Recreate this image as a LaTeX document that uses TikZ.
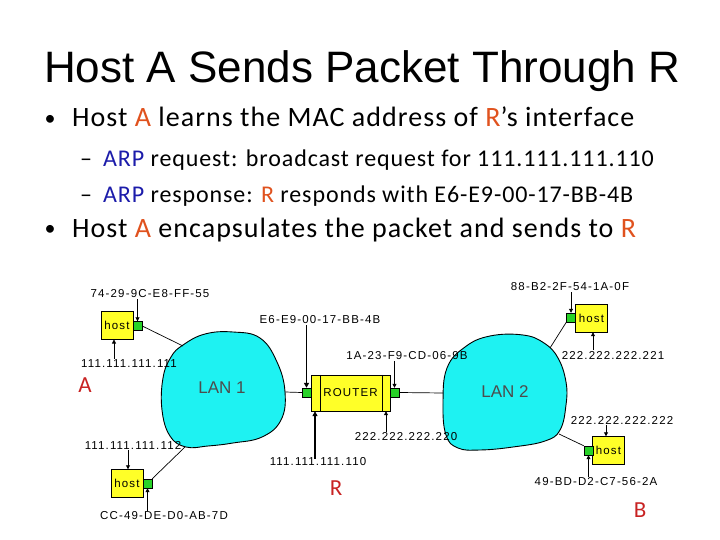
\documentclass[tikz,border=0pt]{standalone}
\usepackage{fontspec}
\setmainfont{Carlito}
\newfontfamily\bodyfont[LetterSpace=3.7]{Carlito}
\newfontfamily\titlefont{Liberation Sans}
\newfontfamily\netfont[LetterSpace=10]{Liberation Sans}
\newfontfamily\lanfont{Liberation Sans}
\usetikzlibrary{arrows.meta}
\definecolor{accR}{RGB}{224,82,30}
\definecolor{arpblue}{RGB}{28,28,170}
\definecolor{lancyan}{RGB}{30,242,242}
\definecolor{hostyellow}{RGB}{255,255,40}
\definecolor{nicgreen}{RGB}{40,210,40}
\definecolor{labred}{RGB}{200,34,34}
\tikzset{
  txt/.style={anchor=base west, inner sep=0},
  hostbox/.style={draw, fill=hostyellow, minimum width=32, minimum height=28, inner sep=0, font=\netfont\fontsize{11.5}{12}\selectfont},
  nic/.style={draw, fill=nicgreen, minimum size=9, inner sep=0},
  lbl/.style={font=\netfont\fontsize{11.5}{12}\selectfont, inner sep=1},
  arr/.style={-{Triangle[length=4pt,width=4pt]}, line width=0.8},
  tarr/.style={-{Triangle[length=5pt,width=5pt]}, line width=1.6},
  wire/.style={line width=0.7},
  cloud/.style={draw, line width=0.9, fill=lancyan},
  lantxt/.style={font=\lanfont\fontsize{17}{20}\selectfont, text=black!70},
  biglab/.style={font=\fontsize{23}{26}\selectfont, text=labred, inner sep=0}
}
\begin{document}
\begin{tikzpicture}[x=1pt,y=-1pt]
\useasboundingbox (0,0) rectangle (720,540);
% title and bullets
\node[txt] (title) at (44,83) {\titlefont\fontsize{44}{50}\selectfont Host A Sends Packet Through R};
\node[anchor=base, inner sep=0] (d1) at (50,126) {\fontsize{22}{26}\selectfont\textbullet};
\node[txt] (b1) at (72,127) {\bodyfont\fontsize{28}{32}\selectfont Host \textcolor{accR}{A} learns the MAC address of \textcolor{accR}{R}’s interface};
\node[txt] (d2) at (80,167) {\bodyfont\fontsize{24}{28}\selectfont –};
\node[txt] (s1) at (103,167) {\bodyfont\fontsize{24}{28}\selectfont \textcolor{arpblue}{ARP} request: broadcast request for 111.111.111.110};
\node[txt] (d3) at (80,203) {\bodyfont\fontsize{24}{28}\selectfont –};
\node[txt] (s2) at (103,203) {\bodyfont\fontsize{24}{28}\selectfont \textcolor{arpblue}{ARP} response: \textcolor{accR}{R} responds with E6-E9-00-17-BB-4B};
\node[anchor=base, inner sep=0] (d4) at (50,236) {\fontsize{22}{26}\selectfont\textbullet};
\node[txt] (b2) at (72,237) {\bodyfont\fontsize{28}{32}\selectfont Host \textcolor{accR}{A} encapsulates the packet and sends to \textcolor{accR}{R}};

% LAN clouds
\draw[cloud] plot[smooth cycle, tension=0.7] coordinates {(183,345) (205,334) (233,332) (260,338) (277,362) (285,392) (281,420) (262,437) (233,443) (208,446) (186,447) (170,436) (162,410) (163,378) (171,357)};
\draw[cloud] plot[smooth cycle, tension=0.7] coordinates {(447,368) (465,347) (490,336) (523,335) (544,343) (558,358) (566,382) (566,405) (560,430) (545,441) (513,447) (480,450) (458,448) (446,435) (443,403)};
\node[lantxt] (lan1) at (222,388) {LAN 1};
\node[lantxt] (lan2) at (505,392) {LAN 2};
\coordinate (l1nw) at (183,346);
\coordinate (l1sw) at (185,447);
\coordinate (l1e) at (285,392);
\coordinate (l2w) at (443,393);
\coordinate (l2ne) at (550,348);
\coordinate (l2se) at (559,434);

% router
\node[draw, fill=hostyellow, minimum width=79, minimum height=36, inner sep=0, font=\netfont\fontsize{11.5}{12}\selectfont] (R) at (350.5,393) {ROUTER};
\draw ([xshift=9]R.north west) -- ([xshift=9]R.south west);
\draw ([xshift=-8]R.north east) -- ([xshift=-8]R.south east);
\node[nic] (rl) at (306.5,392.5) {};
\node[nic] (rr) at (394.5,392.5) {};
\draw[wire] (l1e) -- (rl.west);
\draw[wire] (rr.east) -- (l2w);
\node[lbl] (macRL) at (320,320) {E6-E9-00-17-BB-4B};
\node[lbl] (macRR) at (407,356) {1A-23-F9-CD-06-9B};
\node[lbl] (ipRL) at (318,462) {111.111.111.110};
\node[lbl] (ipRR) at (406,437) {222.222.222.220};
\draw[tarr] (macRL.south -| rl) -- (rl.north);
\draw[arr] (macRR.south -| rr) -- (rr.north);
\draw[tarr] ([yshift=-2]ipRL.north -| 315,0) -- (315,411.2);
\draw[arr] (ipRR.north -| 386,0) -- (386,411.2);
\node[biglab] (labR) at (336,488) {R};

% host A (top left)
\node[hostbox] (hA) at (117,325.5) {host};
\node[nic] (nA) at (137.5,326) {};
\node[lbl] (macA) at (150,294) {74-29-9C-E8-FF-55};
\node[lbl] (ipA) at (129,364) {111.111.111.111};
\draw[arr] (macA.south -| nA) -- (nA.north);
\draw[arr] (ipA.north -| 114,0) -- (114,339.5);
\draw[wire] (nA.east) -- (l1nw);
\node[biglab] (labA) at (85,385) {A};

% host bottom left
\node[hostbox] (hC) at (127,483.5) {host};
\node[nic] (nC) at (147.5,483.5) {};
\node[lbl] (ipC) at (133,445) {111.111.111.112};
\node[lbl] (macC) at (164,516) {CC-49-DE-D0-AB-7D};
\draw[arr] (ipC.south -| 128,0) -- (hC.north -| 128,0);
\draw[arr] (macC.north -| nC) -- (nC.south);
\draw[wire] (nC.north east) -- (l1sw);

% host top right
\node[hostbox] (hB1) at (591.5,318) {host};
\node[nic] (nB1) at (571,317.5) {};
\node[lbl] (macB1) at (570,287) {88-B2-2F-54-1A-0F};
\node[lbl] (ipB1) at (613,355) {222.222.222.221};
\draw[arr] (macB1.south -| nB1) -- (nB1.north);
\draw[arr] (ipB1.north -| 593,0) -- (hB1.south -| 593,0);
\draw[wire] (nB1.south west) -- (l2ne);

% host bottom right (B)
\node[hostbox] (hB) at (608.5,450.5) {host};
\node[nic] (nB) at (588.5,450.5) {};
\node[lbl] (ipB) at (622,420) {222.222.222.222};
\node[lbl] (macB) at (596,482) {49-BD-D2-C7-56-2A};
\draw[arr] (ipB.south -| 606,0) -- (hB.north -| 606,0);
\draw[arr] (macB.north -| nB) -- (nB.south);
\draw[wire] (nB.north west) -- (l2se);
\node[biglab] (labB) at (640,510) {B};
\end{tikzpicture}
\end{document}
